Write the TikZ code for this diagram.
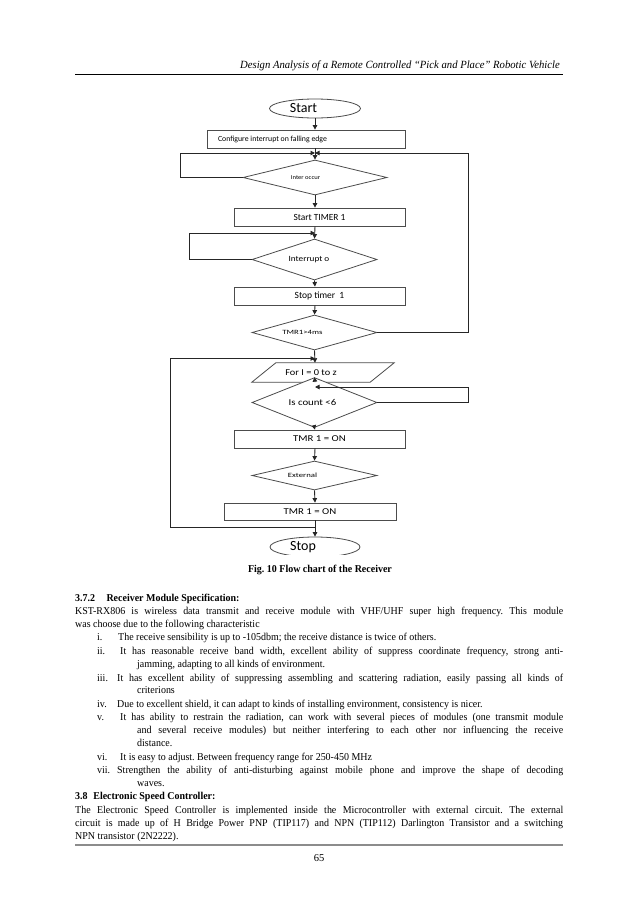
\documentclass[tikz,border=0pt]{standalone}
\usepackage{graphicx}
\usepackage{fontspec}
\setmainfont{Liberation Serif}
\newfontfamily\calfont{Carlito}
\usetikzlibrary{shapes.geometric,arrows.meta,calc}
\newcommand{\fs}[1]{\fontsize{#1}{#1}\selectfont}
\newcommand{\hs}[2]{\scalebox{#1}[1]{#2}}
\newcommand{\bt}{\fontsize{10.5}{12}\selectfont\frenchspacing}
\newcommand{\jl}[2]{\scalebox{0.95}[1]{\makebox[\dimexpr #1pt*100/95\relax][s]{#2}}}
\newcommand{\nl}[1]{\scalebox{0.95}[1]{#1}}
\tikzset{
  shp/.style={draw=black!70, line width=0.8pt, inner sep=0pt, font=\calfont, fill=white},
  boxn/.style={shp, rectangle},
  dian/.style={shp, diamond},
  elln/.style={shp, ellipse},
  arr/.style={draw=black!85, line width=0.9pt, -{Triangle[length=4.5pt,width=4.5pt]}},
  txt/.style={anchor=base west, inner sep=0pt, font=\bt},
}
\begin{document}
\begin{tikzpicture}[x=1pt,y=-1pt]
\useasboundingbox (0,0) rectangle (638,902);
\fill[white] (0,0) rectangle (638,902);

% header
\node[anchor=base east, inner sep=0pt, font=\fontsize{11}{12}\selectfont\itshape] (hdr) at (560,68) {\scalebox{0.97}[1]{Design Analysis of a Remote Controlled “Pick and Place” Robotic Vehicle}};
\draw[line width=0.8pt] (75,74) -- (563,74);

\coordinate (ax) at (315,0);
\begin{scope}
\clip (0,0) rectangle (638,554);
\node[elln, minimum width=91pt, minimum height=19pt] (start) at (315,108.5) {\fs{14}\hspace*{-23pt}Start};
\node[boxn, minimum width=198pt, minimum height=18pt] (config) at (306,139) {\fs{7.8}\makebox[176pt][l]{Configure interrupt on falling edge}};
\node[dian, minimum width=144pt, minimum height=35pt] (inter) at (315,177.5) {\fs{6}\hspace*{-19pt}\hs{1.1}{Inter occur}};
\node[boxn, minimum width=171pt, minimum height=18pt] (timer1) at (319.5,217) {\fs{9.4}Start TIMER 1};
\node[dian, minimum width=125pt, minimum height=41pt] (intr) at (314.5,259.5) {\fs{8}\hspace*{-11pt}\hs{1.15}{Interrupt o}};
\node[boxn, minimum width=171pt, minimum height=18pt] (stop1) at (319.5,296) {\fs{9.5}Stop timer\ \ 1};
\node[dian, minimum width=125pt, minimum height=35pt] (tmr4) at (314.5,332.5) {\fs{6.5}\hspace*{-24pt}\hs{1.35}{TMR1>4ms}};
\node[rectangle, inner sep=0pt, minimum width=118pt, minimum height=19pt, font=\calfont] (fori) at (323,372.5) {\fs{9}\hspace*{-24pt}\hs{1.15}{For I = 0 to z}};
\draw[draw=black!70, line width=0.8pt] ($(fori.south west)+(-12,0)$) -- ($(fori.south east)+(-12,0)$) -- ($(fori.north east)+(12,0)$) -- ($(fori.north west)+(12,0)$) -- cycle;
\node[dian, minimum width=125pt, minimum height=29pt] (count) at (314.5,402.5) {\fs{9}\hspace*{-4pt}\hs{1.2}{Is count <6}};
\node[boxn, minimum width=171pt, minimum height=18pt] (ton1) at (319.5,439) {\fs{9}\hs{1.2}{TMR 1 = ON}};
\node[dian, minimum width=125pt, minimum height=29pt] (ext) at (314.5,475.5) {\fs{6.5}\hspace*{-24pt}\hs{1.35}{External}};
\node[boxn, minimum width=172pt, minimum height=17pt] (ton2) at (310,511.5) {\fs{9}\hs{1.2}{TMR 1 = ON}};
\node[elln, minimum width=90pt, minimum height=20pt] (stop) at (315,547) {\fs{14}\hspace*{-24pt}Stop};

% main flow
\draw[arr] (start.south) -- (config.north -| ax);
\draw[arr] (config.south -| ax) -- (inter.north);
\draw[arr] (inter.south) -- (timer1.north -| ax);
\draw[arr] (timer1.south -| ax) -- (intr.north);
\draw[arr] (intr.south) -- (stop1.north -| ax);
\draw[arr] (stop1.south -| ax) -- (tmr4.north);
\draw[arr] (tmr4.south) -- (fori.north -| ax);
\draw[arr] (fori.south -| ax) -- (count.north);
\draw[arr] (count.south) -- (ton1.north -| ax);
\draw[arr] (ton1.south -| ax) -- (ext.north);
\draw[arr] (ext.south) -- (ton2.north -| ax);
\draw[arr] (ton2.south -| ax) -- (stop.north);

% loops
\coordinate (m1) at (315,153);
\coordinate (m2) at (315,233);
\coordinate (m3) at (315,358.5);
\coordinate (m4) at (315,387);
\coordinate (j) at (315,527);
\draw[arr] (inter.west) -| (180,153) -- (m1);
\draw[arr] (tmr4.east) -| (468,153) -- (m1);
\draw[arr] (intr.west) -| (189,233) -- (m2);
\draw[arr] (j) -| (170,358.5) -- (m3);
\draw[arr] (count.east) -| (468,387) -- (m4);
\end{scope}

% caption
\node[anchor=base, inner sep=0pt, font=\bt\bfseries] (cap) at (320,572) {\nl{Fig. 10 Flow chart of the Receiver}};

% body text
\node[txt, font=\bt\bfseries] (h1) at (75,601) {\nl{3.7.2\hspace{12pt}Receiver Module Specification:}};
\node[txt] (l2) at (75,614) {\jl{488}{KST-RX806 is wireless data transmit and receive module with VHF/UHF super high frequency. This module}};
\node[txt] (l3) at (75,627) {\nl{was choose due to the following characteristic}};
\node[txt] (n1) at (97,640) {\nl{i.}};
\node[txt] (t1) at (118,640) {\nl{The receive sensibility is up to -105dbm; the receive distance is twice of others.}};
\node[txt] (n2) at (97,654) {\nl{ii.}};
\node[txt] (t2) at (120,654) {\jl{443}{It has reasonable receive band width, excellent ability of suppress coordinate frequency, strong anti-}};
\node[txt] (t2b) at (137,667) {\nl{jamming, adapting to all kinds of environment.}};
\node[txt] (n3) at (97,681) {\nl{iii.}};
\node[txt] (t3) at (117,681) {\jl{446}{It has excellent ability of suppressing assembling and scattering radiation, easily passing all kinds of}};
\node[txt] (t3b) at (137,693) {\nl{criterions}};
\node[txt] (n4) at (97,707) {\nl{iv.}};
\node[txt] (t4) at (117,707) {\nl{Due to excellent shield, it can adapt to kinds of installing environment, consistency is nicer.}};
\node[txt] (n5) at (97,720) {\nl{v.}};
\node[txt] (t5) at (120,720) {\jl{443}{It has ability to restrain the radiation, can work with several pieces of modules (one transmit module}};
\node[txt] (t5b) at (137,733) {\jl{426}{and several receive modules) but neither interfering to each other nor influencing the receive}};
\node[txt] (t5c) at (137,746) {\nl{distance.}};
\node[txt] (n6) at (97,760) {\nl{vi.}};
\node[txt] (t6) at (120,760) {\nl{It is easy to adjust. Between frequency range for 250-450 MHz}};
\node[txt] (n7) at (97,773) {\nl{vii.}};
\node[txt] (t7) at (117,773) {\jl{446}{Strengthen the ability of anti-disturbing against mobile phone and improve the shape of decoding}};
\node[txt] (t7b) at (137,786) {\nl{waves.}};
\node[txt, font=\bt\bfseries] (h2) at (75,799) {\nl{3.8\hspace{6pt}Electronic Speed Controller:}};
\node[txt] (p1) at (75,813) {\jl{488}{The Electronic Speed Controller is implemented inside the Microcontroller with external circuit. The external}};
\node[txt] (p2) at (75,826) {\jl{488}{circuit is made up of H Bridge Power PNP (TIP117) and NPN (TIP112) Darlington Transistor and a switching}};
\node[txt] (p3) at (75,839) {\nl{NPN transistor (2N2222).}};
\draw[black!45, line width=1.5pt] (75,845) -- (563,845);
\node[anchor=base, inner sep=0pt, font=\bt] (pg) at (319,861) {65};
\end{tikzpicture}
\end{document}
